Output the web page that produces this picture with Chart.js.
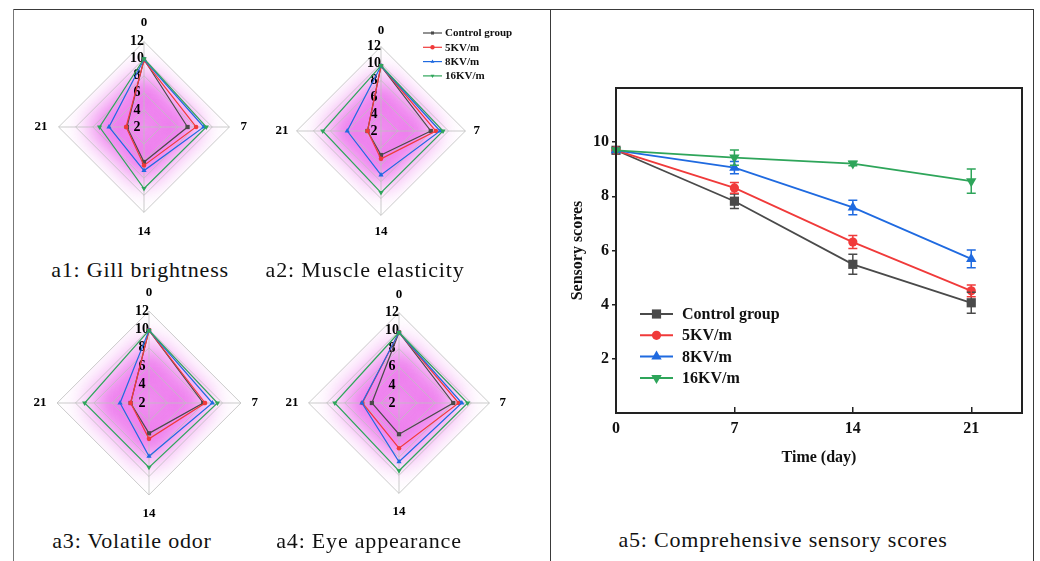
<!DOCTYPE html>
<html>
<head>
<meta charset="utf-8">
<script src="https://cdn.jsdelivr.net/npm/chart.js@4.4.0/dist/chart.umd.min.js"></script>
<style>
  html, body { margin: 0; padding: 0; background: #fff; }
  body { width: 1040px; height: 561px; position: relative; overflow: hidden; }
  canvas { position: absolute; }
  .rule { position: absolute; background: #3a3a3a; }
  .caption {
    position: absolute;
    font-family: 'Liberation Serif', 'Times New Roman', serif;
    font-size: 22px;
    line-height: 22px;
    letter-spacing: 0.8px;
    color: #111;
    white-space: nowrap;
    transform: translateX(-50%);
  }
</style>
</head>
<body>
<div class="rule" style="left:13px;top:9px;width:1021px;height:1px"></div>
<div class="rule" style="left:13px;top:9px;width:1px;height:552px;background:#777"></div>
<div class="rule" style="left:550px;top:9px;width:1px;height:552px"></div>
<div class="rule" style="left:1033px;top:9px;width:1px;height:552px"></div>

<canvas id="radarGill"></canvas>
<canvas id="radarMuscle"></canvas>
<canvas id="radarOdor"></canvas>
<canvas id="radarEye"></canvas>
<canvas id="scoreChart" width="475" height="410" style="left:560px;top:70px"></canvas>

<div class="caption" style="left:140px;top:259px">a1: Gill brightness</div>
<div class="caption" style="left:365px;top:259px">a2: Muscle elasticity</div>
<div class="caption" style="left:132px;top:530px">a3: Volatile odor</div>
<div class="caption" style="left:369px;top:530px">a4: Eye appearance</div>
<div class="caption" style="left:783px;top:529px">a5: Comprehensive sensory scores</div>

<script>
// ---- data ----
const groups = ['Control group', '5KV/m', '8KV/m', '16KV/m'];
const days = ['0', '7', '14', '21'];
const radarTicks = [2, 4, 6, 8, 10, 12];

// a1: Gill brightness
const gillControl = [9.9, 7.1, 6.1, 4.0];
const gill5kv = [9.8, 8.1, 6.5, 4.1];
const gill8kv = [9.9, 9.0, 7.1, 6.1];
const gill16kv = [10.0, 9.3, 9.2, 7.2];

// a2: Muscle elasticity
const muscleControl = [9.7, 7.9, 4.85, 3.6];
const muscle5kv = [9.7, 8.5, 5.3, 3.6];
const muscle8kv = [9.7, 9.0, 7.2, 6.0];
const muscle16kv = [9.75, 9.35, 9.3, 8.9];

// a3: Volatile odor
const odorControl = [9.9, 7.9, 5.3, 4.0];
const odor5kv = [9.9, 8.1, 5.9, 4.0];
const odor8kv = [9.9, 8.9, 7.8, 5.15];
const odor16kv = [9.9, 9.45, 9.0, 9.0];

// a4: Eye appearance
const eyeControl = [9.8, 8.0, 5.45, 5.0];
const eye5kv = [9.8, 8.6, 7.0, 6.05];
const eye8kv = [9.8, 8.95, 8.5, 6.1];
const eye16kv = [9.8, 9.6, 9.5, 9.1];

// a5: Comprehensive sensory scores
const timeDays = [0, 7, 14, 21];
const timeTicks = [0, 7, 14, 21];
const scoreTicks = [2, 4, 6, 8, 10];
const scoreControl = [9.7, 7.82, 5.49, 4.07];
const score5kv = [9.7, 8.31, 6.31, 4.51];
const score8kv = [9.7, 9.06, 7.59, 5.69];
const score16kv = [9.7, 9.43, 9.21, 8.56];
const errControl = [0, 0.27, 0.37, 0.39];
const err5kv = [0, 0.2, 0.24, 0.22];
const err8kv = [0, 0.23, 0.27, 0.33];
const err16kv = [0, 0.28, 0.08, 0.45];

// ---- styles ----
const SERIF = '"Liberation Serif", "Times New Roman", serif';
Chart.defaults.font.family = SERIF;
Chart.defaults.animation = false;

const colors = ['#4a4a4a', '#f03a3a', '#1f6ae0', '#2ea55a'];
const markers = ['rect', 'circle', 'triangle', 'triangle'];
const rotations = [0, 0, 0, 180];

// Pink glow behind the radar grid
const glowPlugin = {
    id: 'glow',
    beforeDraw(chart) {
        const s = chart.scales.r;
        const ctx = chart.ctx;
        const n = chart.data.labels.length;
        const diamond = (rad) => {
            ctx.beginPath();
            for (let i = 0; i < n; i++) {
                const p = s.getPointPosition(i, rad);
                if (i === 0) ctx.moveTo(p.x, p.y); else ctx.lineTo(p.x, p.y);
            }
            ctx.closePath();
        };
        ctx.save();
        diamond(s.drawingArea);
        ctx.clip();
        ctx.filter = 'blur(' + Math.round(s.drawingArea * 0.15) + 'px)';
        diamond(s.drawingArea * 0.7);
        ctx.fillStyle = 'rgba(234, 96, 234, 0.9)';
        ctx.fill();
        ctx.filter = 'none';
        // slightly lighter core
        const g = ctx.createRadialGradient(s.xCenter, s.yCenter, 0, s.xCenter, s.yCenter, s.drawingArea * 0.45);
        g.addColorStop(0, 'rgba(255,255,255,0.22)');
        g.addColorStop(1, 'rgba(255,255,255,0)');
        ctx.fillStyle = g;
        diamond(s.drawingArea);
        ctx.fill();
        ctx.restore();
    }
};

// Small legend drawn in the a2 panel
const radarLegend = {
    id: 'radarLegend',
    afterDraw(chart) {
        const s = chart.scales.r;
        const ctx = chart.ctx;
        const x0 = s.xCenter + 42;
        chart.data.datasets.forEach((ds, i) => {
            const y = s.yCenter - 98 + i * 14.3;
            ctx.save();
            ctx.strokeStyle = ds.borderColor;
            ctx.fillStyle = ds.borderColor;
            ctx.lineWidth = 1.2;
            ctx.beginPath();
            ctx.moveTo(x0, y);
            ctx.lineTo(x0 + 19, y);
            ctx.stroke();
            Chart.helpers.drawPoint(ctx, { pointStyle: ds.pointStyle, radius: 2.2, rotation: ds.pointRotation, borderWidth: 0 }, x0 + 9.5, y);
            ctx.fillStyle = '#111';
            ctx.font = 'bold 11px ' + SERIF;
            ctx.textBaseline = 'middle';
            ctx.fillText(ds.label, x0 + 22, y + 0.5);
            ctx.restore();
        });
    }
};

// labelGap: distance from the outer vertex to the point label
function makeRadar(id, cx, cy, radius, labelGap, series, extraPlugins) {
    const canvas = document.getElementById(id);
    const lineH = 13 * 1.2;
    const tickFont = 14;
    const extra = tickFont / 2;          // Chart.js keeps half a tick-label height around the scale
    const pad = labelGap - extra;
    const h = 2 * Math.ceil(radius + pad + lineH) + 2 * extra;
    const w = 300;
    canvas.width = w;
    canvas.height = h;
    canvas.style.left = (cx - w / 2) + 'px';
    canvas.style.top = (cy - h / 2) + 'px';

    return new Chart(canvas, {
        type: 'radar',
        data: {
            labels: days,
            datasets: series.map((values, i) => ({
                label: groups[i],
                data: values,
                borderColor: colors[i],
                backgroundColor: colors[i],
                pointBackgroundColor: colors[i],
                borderWidth: 1.2,
                pointStyle: markers[i],
                pointRotation: rotations[i],
                pointRadius: i === 1 ? 2.3 : 3,
                pointBorderWidth: 0,
                fill: false,
                order: 4 - i
            }))
        },
        options: {
            responsive: false,
            plugins: { legend: { display: false }, tooltip: { enabled: false } },
            scales: {
                r: {
                    min: 2,
                    max: 12,
                    // repeat the first tick so that "2" is printed at the centre
                    afterBuildTicks: (s) => { s.ticks = [radarTicks[0], ...radarTicks].map(v => ({ value: v })); },
                    angleLines: { color: 'rgba(190,190,190,0.8)', lineWidth: 1 },
                    grid: { color: 'rgba(190,190,190,0.8)', lineWidth: 1 },
                    ticks: {
                        showLabelBackdrop: false,
                        backdropPadding: 0,
                        color: '#000',
                        font: { size: tickFont, weight: 'bold' },
                        // trailing spaces nudge the centred label to the left of the axis
                        callback: (v) => v + '\u2002\u2002'
                    },
                    pointLabels: {
                        color: '#000',
                        padding: pad,
                        font: { size: 13, weight: 'bold' }
                    }
                }
            }
        },
        plugins: [glowPlugin].concat(extraPlugins || [])
    });
}

makeRadar('radarGill', 144, 127, 85, 11, [gillControl, gill5kv, gill8kv, gill16kv]);
makeRadar('radarMuscle', 381, 131, 84, 8, [muscleControl, muscle5kv, muscle8kv, muscle16kv], [radarLegend]);
makeRadar('radarOdor', 149, 403, 91, 10.5, [odorControl, odor5kv, odor8kv, odor16kv]);
makeRadar('radarEye', 399, 403, 90, 10, [eyeControl, eye5kv, eye8kv, eye16kv]);

// ---- line chart with error bars ----
const scoreSeries = [scoreControl, score5kv, score8kv, score16kv];
const errSeries = [errControl, err5kv, err8kv, err16kv];
const markerSizes = [6.5, 4.6, 6, 6];

const errorBars = {
    id: 'errorBars',
    afterDatasetsDraw(chart) {
        const ctx = chart.ctx;
        const { x, y } = chart.scales;
        chart.data.datasets.forEach((ds, i) => {
            errSeries[i].forEach((e, j) => {
                if (!e) return;
                const px = x.getPixelForValue(timeDays[j]);
                const top = y.getPixelForValue(scoreSeries[i][j] + e);
                const bottom = y.getPixelForValue(scoreSeries[i][j] - e);
                ctx.save();
                ctx.strokeStyle = ds.borderColor;
                ctx.lineWidth = 1.5;
                ctx.beginPath();
                ctx.moveTo(px, top); ctx.lineTo(px, bottom);
                ctx.moveTo(px - 4.5, top); ctx.lineTo(px + 4.5, top);
                ctx.moveTo(px - 4.5, bottom); ctx.lineTo(px + 4.5, bottom);
                ctx.stroke();
                ctx.restore();
            });
        });
    }
};

const frameBox = {
    id: 'frameBox',
    afterDraw(chart) {
        const a = chart.chartArea;
        const ctx = chart.ctx;
        ctx.save();
        ctx.strokeStyle = '#222';
        ctx.lineWidth = 2;
        ctx.strokeRect(a.left, a.top, a.right - a.left, a.bottom - a.top);
        ctx.restore();
    }
};

const lineLegend = {
    id: 'lineLegend',
    afterDraw(chart) {
        const a = chart.chartArea;
        const ctx = chart.ctx;
        const x0 = a.left + 24;
        chart.data.datasets.forEach((ds, i) => {
            const y = a.top + 226 + i * 21.3;
            ctx.save();
            ctx.strokeStyle = ds.borderColor;
            ctx.fillStyle = ds.borderColor;
            ctx.lineWidth = 2;
            ctx.beginPath();
            ctx.moveTo(x0, y);
            ctx.lineTo(x0 + 33, y);
            ctx.stroke();
            Chart.helpers.drawPoint(ctx, { pointStyle: ds.pointStyle, radius: ds.pointRadius, rotation: ds.pointRotation, borderWidth: 0 }, x0 + 16.5, y);
            ctx.fillStyle = '#111';
            ctx.font = 'bold 16px ' + SERIF;
            ctx.textBaseline = 'middle';
            ctx.fillText(ds.label, x0 + 42, y + 1);
            ctx.restore();
        });
    }
};

const axisFont = { size: 16, weight: 'bold' };

new Chart(document.getElementById('scoreChart'), {
    type: 'line',
    data: {
        datasets: scoreSeries.map((values, i) => ({
            label: groups[i],
            data: timeDays.map((d, j) => ({ x: d, y: values[j] })),
            borderColor: colors[i],
            backgroundColor: colors[i],
            pointBackgroundColor: colors[i],
            borderWidth: 1.8,
            pointStyle: markers[i],
            pointRotation: rotations[i],
            pointRadius: markerSizes[i],
            pointBorderWidth: 0,
            clip: false,
            order: 4 - i
        }))
    },
    options: {
        responsive: false,
        layout: { padding: { top: 18, right: 13, left: 0, bottom: 0 } },
        plugins: { legend: { display: false }, tooltip: { enabled: false } },
        scales: {
            x: {
                type: 'linear',
                min: 0,
                max: 24,
                afterBuildTicks: (s) => { s.ticks = timeTicks.map(v => ({ value: v })); },
                afterFit: (s) => { s.height = 67; },
                grid: { drawOnChartArea: false, tickLength: -6, color: '#222', lineWidth: 1.5 },
                border: { color: '#222', width: 2 },
                ticks: { color: '#111', font: axisFont, padding: 12, maxRotation: 0 },
                title: { display: true, text: 'Time (day)', color: '#111', font: axisFont, padding: { top: 0, bottom: 13 } }
            },
            y: {
                min: 0,
                max: 12,
                afterBuildTicks: (s) => { s.ticks = scoreTicks.map(v => ({ value: v })); },
                afterFit: (s) => { s.width = 56; },
                grid: { drawOnChartArea: false, tickLength: 4, color: '#222', lineWidth: 1.5 },
                border: { color: '#222', width: 2 },
                ticks: { color: '#111', font: axisFont, padding: 3 },
                title: { display: true, text: 'Sensory scores', color: '#111', font: axisFont, padding: { top: 8, bottom: 0 } }
            }
        }
    },
    plugins: [errorBars, frameBox, lineLegend]
});
</script>
</body>
</html>
